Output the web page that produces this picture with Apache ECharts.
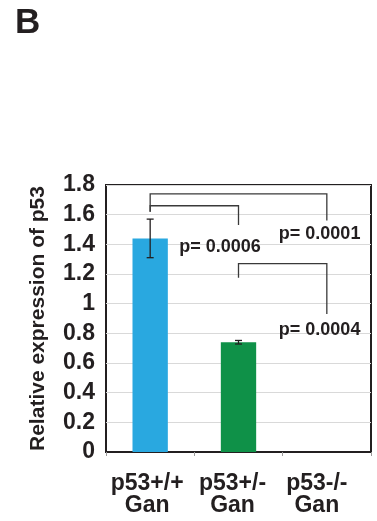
<!DOCTYPE html>
<html><head><meta charset="utf-8">
<script src="https://cdn.jsdelivr.net/npm/echarts@6/dist/echarts.min.js"></script>
<style>html,body{margin:0;padding:0;background:#fff}#c{width:377px;height:521px}</style>
</head><body><div id="c"></div>
<script>
var categories = ['p53+/+\nGan', 'p53+/-\nGan', 'p53-/-\nGan'];
var values = [1.44, 0.74, 0];
var errors = [0.13, 0.012, 0];
var barColors = ['#29a8e0', '#0f9148', '#888888'];
var yTicks = [0, 0.2, 0.4, 0.6, 0.8, 1, 1.2, 1.4, 1.6, 1.8];
// brackets: [fromCat, toCat, topY, leftEndY, rightEndY]
var brackets = [
  [0, 2, 1.74, 1.62, 1.56],
  [0, 1, 1.66, 1.62, 1.53],
  [1, 2, 1.27, 1.175, 0.93]
];
// p-value labels: [text, anchorCat, anchorY]
var pLabels = [
  ['p= 0.0006', 0, 1.38],
  ['p= 0.0001', 2, 1.47],
  ['p= 0.0004', 2, 0.82]
];
var labelOffsets = [29, -48, -48];
var catLabelShift = [6, 12, 20];

var font = 'Liberation Sans, Arial, Helvetica, sans-serif';
var chart = echarts.init(document.getElementById('c'));
chart.setOption({
  animation: false,
  graphic: [{type: 'text', left: 15, top: 6, style: {text: 'B', font: 'bold 35px ' + font, fill: '#231f20'}}],
  grid: {left: 106, right: 6, top: 185, bottom: 69, show: true, borderColor: '#231f20', borderWidth: 2, containLabel: false},
  xAxis: {
    type: 'category',
    data: categories.map(function (c, i) { return {value: c, textStyle: {padding: [0, catLabelShift[i], 0, 0]}}; }),
    axisLine: {show: true, lineStyle: {color: '#231f20', width: 2}},
    axisTick: {show: true, length: 4, lineStyle: {color: '#999'}},
    axisLabel: {margin: 21, fontFamily: font, fontWeight: 'bold', fontSize: 23, color: '#231f20', lineHeight: 22, interval: 0}
  },
  yAxis: {
    type: 'value', min: 0, max: 1.8, interval: 0.2,
    name: 'Relative expression of p53', nameLocation: 'middle', nameRotate: 90, nameGap: 57,
    nameTextStyle: {fontFamily: font, fontSize: 21, fontWeight: 'bold', color: '#231f20'},
    axisLine: {show: false}, axisTick: {show: false},
    axisLabel: {margin: 11, fontFamily: font, fontWeight: 'bold', fontSize: 23, color: '#231f20',
      formatter: function (v) { var i = yTicks.indexOf(Math.round(v * 10) / 10); return i >= 0 ? String(yTicks[i]) : ''; }},
    splitLine: {lineStyle: {color: '#d9d9d9', width: 1}}
  },
  series: [
    {
      type: 'bar', barWidth: '40%',
      data: values.map(function (v, i) { return {value: v, itemStyle: {color: barColors[i]}}; })
    },
    {
      type: 'custom', z: 5,
      data: values.map(function (v, i) { return [i, v, errors[i]]; }),
      renderItem: function (params, api) {
        var i = api.value(0), v = api.value(1), e = api.value(2);
        if (!e) return null;
        var top = api.coord([i, v + e]), bot = api.coord([i, v - e]);
        var w = 3.5;
        var st = {stroke: '#231f20', lineWidth: 1.3};
        return {type: 'group', children: [
          {type: 'line', shape: {x1: top[0], y1: top[1], x2: bot[0], y2: bot[1]}, style: st},
          {type: 'line', shape: {x1: top[0] - w, y1: top[1], x2: top[0] + w, y2: top[1]}, style: st},
          {type: 'line', shape: {x1: bot[0] - w, y1: bot[1], x2: bot[0] + w, y2: bot[1]}, style: st}
        ]};
      }
    },
    {
      type: 'custom', z: 6,
      data: brackets,
      renderItem: function (params, api) {
        var a = api.value(0), b = api.value(1), t = api.value(2), l = api.value(3), r = api.value(4);
        var p1 = api.coord([a, l]), p2 = api.coord([a, t]), p3 = api.coord([b, t]), p4 = api.coord([b, r]);
        return {type: 'polyline', shape: {points: [p1, p2, p3, p4]}, style: {stroke: '#3a3a3a', lineWidth: 1.3, fill: null}};
      }
    },
    {
      type: 'custom', z: 7,
      data: pLabels.map(function (p, i) { return [p[1], p[2], i]; }),
      renderItem: function (params, api) {
        var idx = api.value(2);
        var c = api.coord([api.value(0), api.value(1)]);
        return {type: 'text', x: c[0] + labelOffsets[idx], y: c[1], style: {text: pLabels[idx][0], font: 'bold 18px ' + font, fill: '#231f20', align: 'left', verticalAlign: 'middle'}};
      }
    }
  ]
});
</script></body></html>
